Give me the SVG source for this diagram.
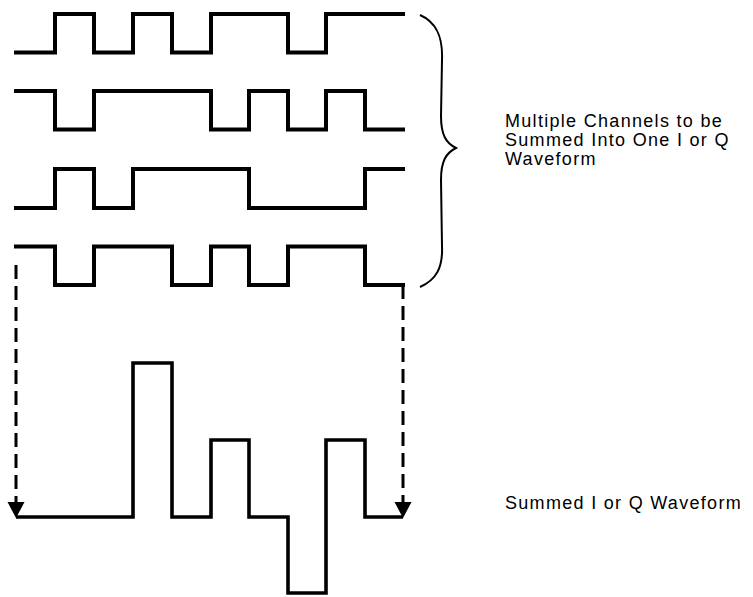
<svg xmlns="http://www.w3.org/2000/svg" width="753" height="597" viewBox="0 0 753 597">
<style>
.wave{fill:none;stroke:#000;stroke-width:4;stroke-linejoin:miter;stroke-linecap:square}
.sum{fill:none;stroke:#000;stroke-width:3.6;stroke-linejoin:miter}
.dash{fill:none;stroke:#000;stroke-width:3;stroke-dasharray:14 7}
.brace{fill:none;stroke:#000;stroke-width:2}
.lbl{font-family:"Liberation Sans",Arial,sans-serif;font-size:18px;letter-spacing:1.3px;fill:#000}
</style>
<rect width="753" height="597" fill="#fff"/>
<g id="channel1"><path class="wave" d="M16,52.5 H55 V14 H94 V52.5 H133 V14 H172 V52.5 H211 V14 H288 V52.5 H326 V14 H403"/></g>
<g id="channel2"><path class="wave" d="M16,91 H55 V129.5 H94 V91 H211 V129.5 H249 V91 H288 V129.5 H326 V91 H365 V129.5 H403"/></g>
<g id="channel3"><path class="wave" d="M16,208 H55 V169 H94 V208 H133 V169 H249 V208 H365 V169 H403"/></g>
<g id="channel4"><path class="wave" d="M16,246.5 H55 V285 H94 V246.5 H172 V285 H211 V246.5 H249 V285 H288 V246.5 H365 V285 H403"/></g>
<g id="summed"><path class="sum" d="M16,517 H133 V363 H172 V517 H211 V440 H249 V517 H288 V593 H326 V440 H365 V517 H403"/></g>
<g id="brace"><path class="brace" d="M420,15 C436,22 443,36 442,60 L441,116 C441,135 446,143 456,148 C446,153 441,161 441,180 L442,246 C443,268 436,280 420,287"/></g>
<g id="connectors">
<path class="dash" d="M16,265 V503"/>
<path class="dash" d="M403,285 V503"/>
<polygon points="16,518 7.5,502 24.5,502" fill="#000"/>
<polygon points="403,518 394.5,502 411.5,502" fill="#000"/>
</g>
<g id="label-channels">
<text class="lbl" x="505" y="127">Multiple Channels to be</text>
<text class="lbl" x="505" y="146">Summed Into One I or Q</text>
<text class="lbl" x="505" y="165">Waveform</text>
</g>
<g id="label-summed">
<text class="lbl" x="505" y="509">Summed I or Q Waveform</text>
</g>
</svg>
